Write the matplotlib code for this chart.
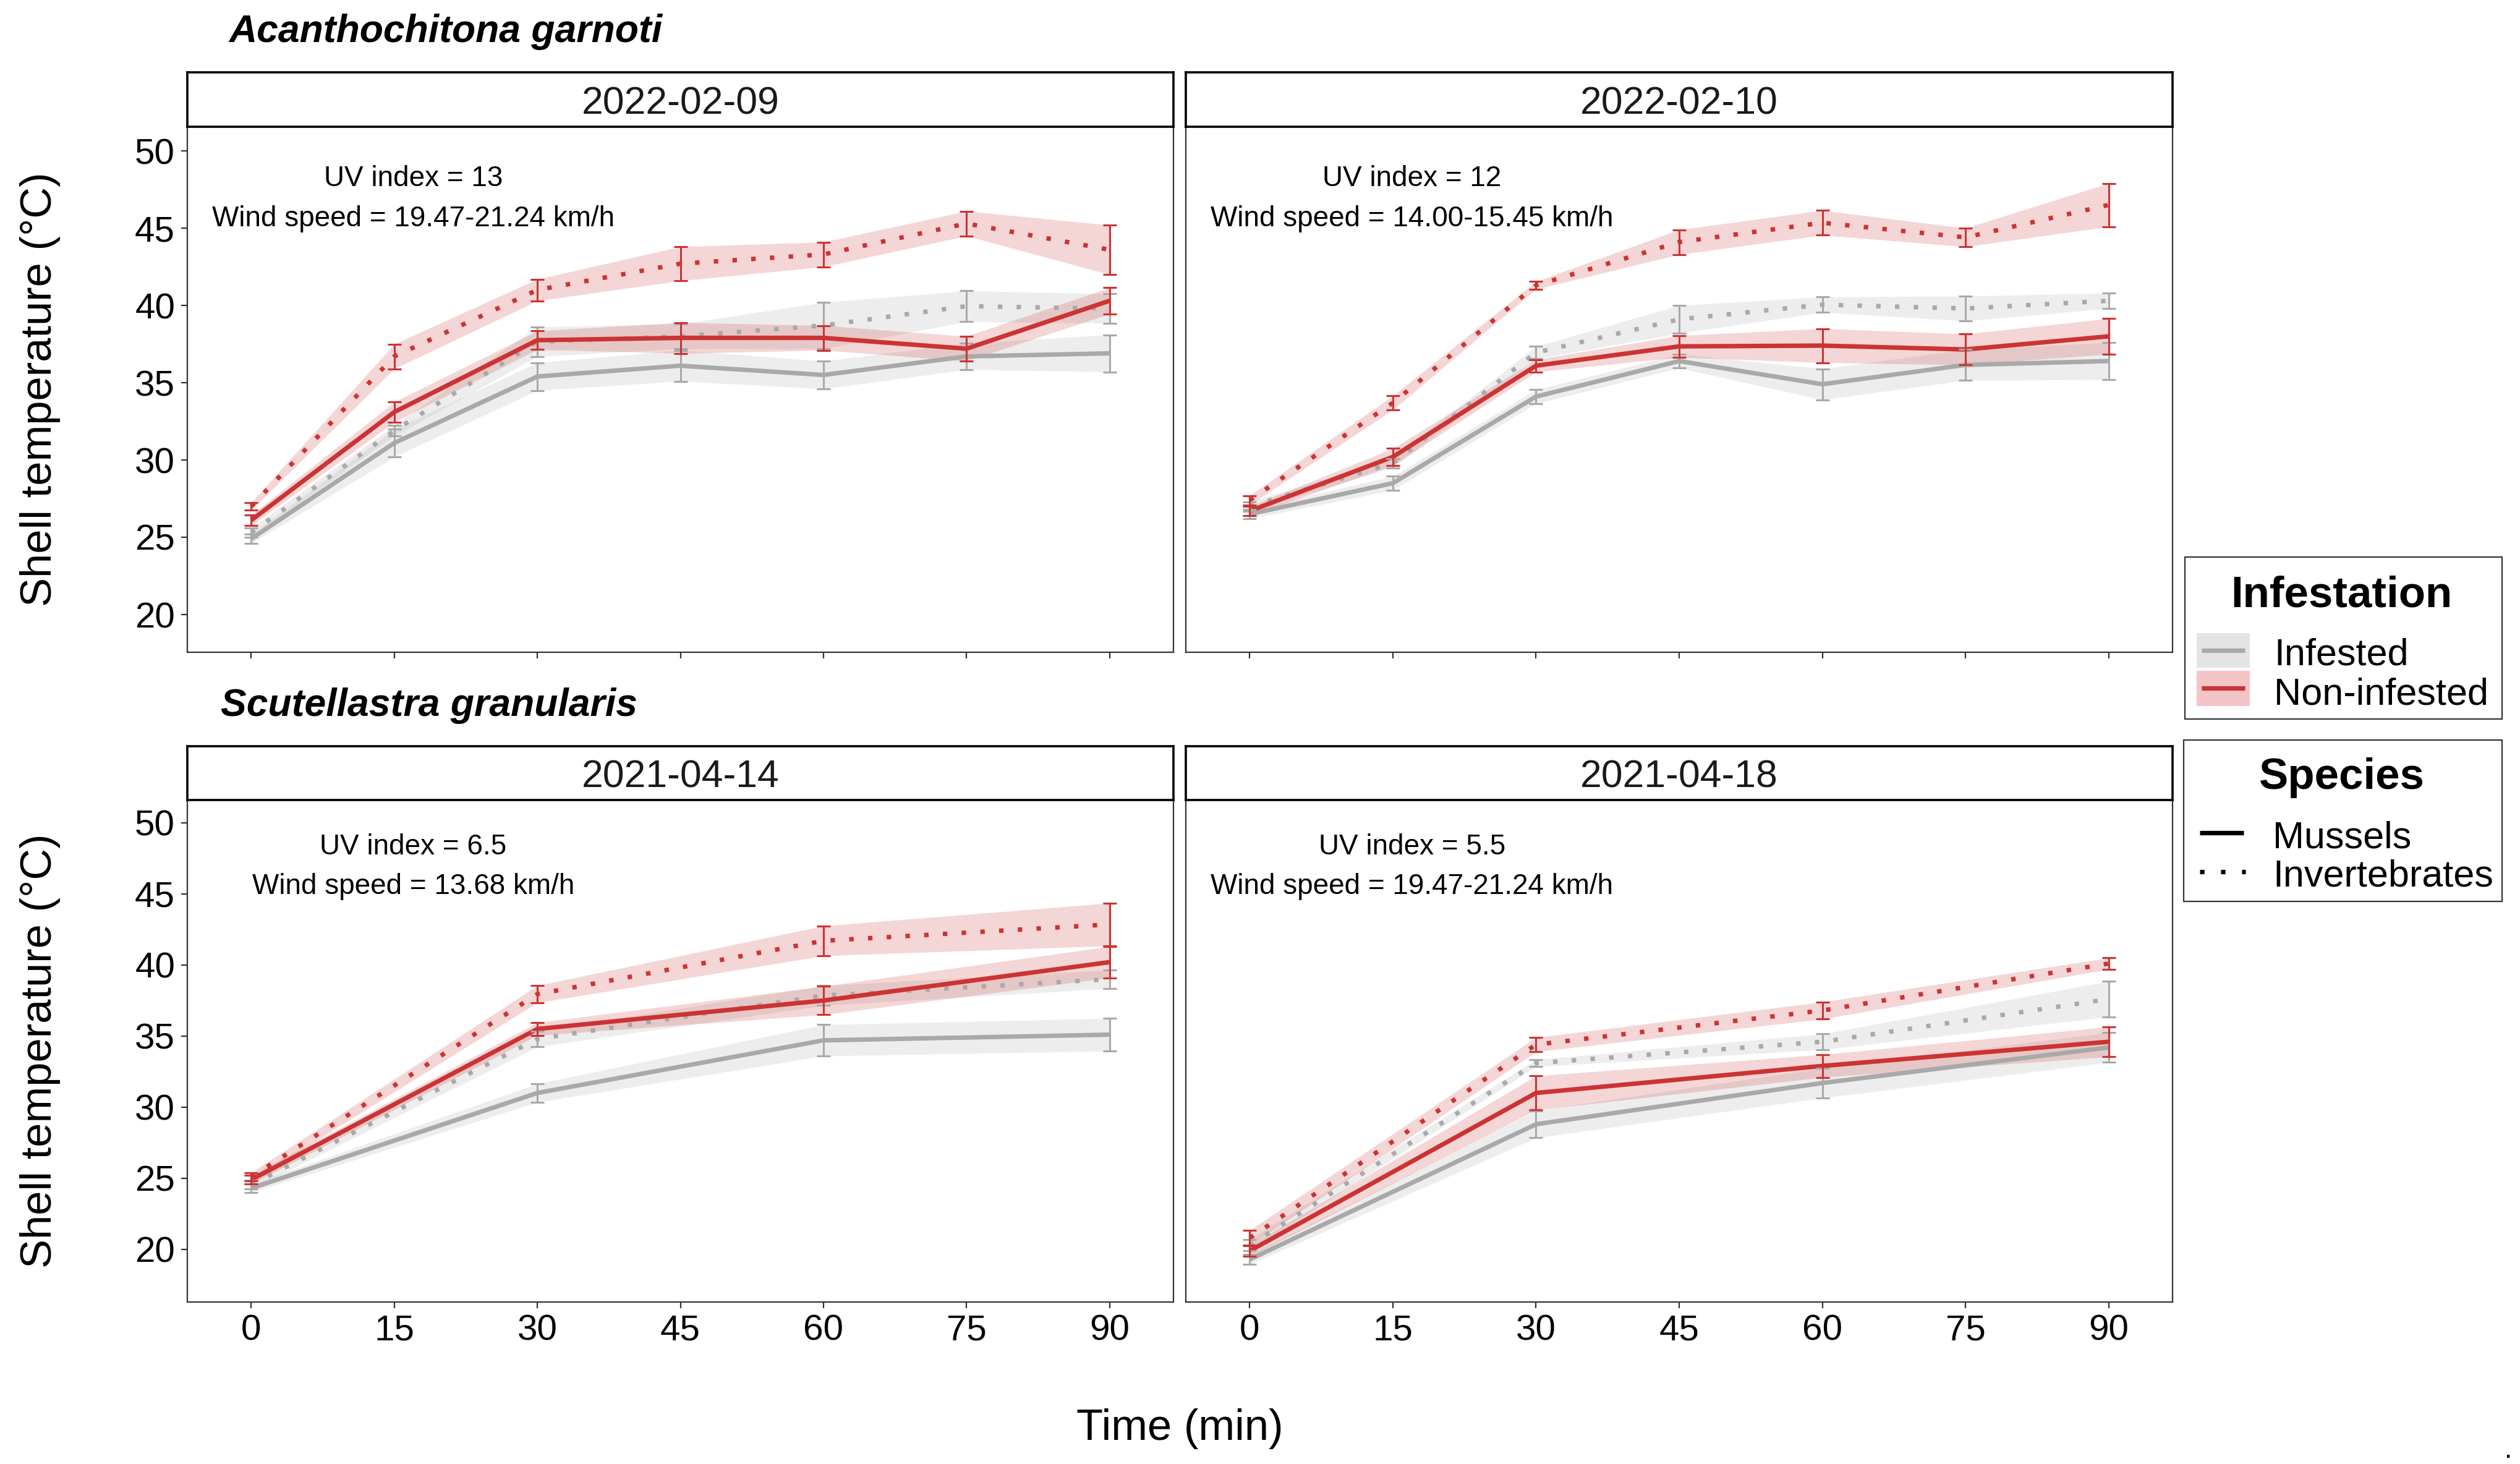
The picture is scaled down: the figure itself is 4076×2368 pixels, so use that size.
import numpy as np
import matplotlib
matplotlib.use('Agg')
import matplotlib.pyplot as plt
from matplotlib.patches import Rectangle
from matplotlib.lines import Line2D

plt.rcParams['font.family'] = ['Liberation Sans', 'DejaVu Sans']

# ---- data: mean shell temperature and SE per group ----
times_top = [0, 15, 30, 45, 60, 75, 90]
times_bot = [0, 30, 60, 90]

# 2022-02-09 (Acanthochitona garnoti)
a09_ni_inv = [27.0, 36.7, 41.0, 42.7, 43.3, 45.3, 43.6]
a09_ni_inv_se = [0.25, 0.8, 0.7, 1.1, 0.8, 0.8, 1.6]
a09_ni_mus = [26.1, 33.1, 37.75, 37.9, 37.9, 37.2, 40.3]
a09_ni_mus_se = [0.35, 0.65, 0.6, 1.0, 0.8, 0.8, 0.85]
a09_in_inv = [25.3, 31.9, 37.65, 38.0, 38.7, 39.95, 39.8]
a09_in_inv_se = [0.3, 0.35, 0.95, 0.8, 1.5, 1.0, 0.95]
a09_in_mus = [24.9, 31.1, 35.4, 36.1, 35.5, 36.7, 36.9]
a09_in_mus_se = [0.3, 0.9, 0.9, 1.0, 0.9, 0.85, 1.2]

# 2022-02-10
a10_ni_inv = [27.4, 33.7, 41.3, 44.1, 45.35, 44.4, 46.5]
a10_ni_inv_se = [0.3, 0.45, 0.25, 0.8, 0.8, 0.6, 1.4]
a10_ni_mus = [26.7, 30.2, 36.1, 37.35, 37.4, 37.15, 38.0]
a10_ni_mus_se = [0.3, 0.55, 0.4, 0.7, 1.1, 1.0, 1.15]
a10_in_inv = [27.0, 29.8, 36.95, 39.1, 40.05, 39.8, 40.3]
a10_in_inv_se = [0.3, 0.3, 0.4, 0.9, 0.5, 0.8, 0.5]
a10_in_mus = [26.5, 28.5, 34.1, 36.4, 34.9, 36.15, 36.4]
a10_in_mus_se = [0.3, 0.45, 0.45, 0.45, 1.0, 1.0, 1.2]

# 2021-04-14 (Scutellastra granularis)
s14_ni_inv = [25.1, 37.95, 41.7, 42.85]
s14_ni_inv_se = [0.3, 0.6, 1.05, 1.5]
s14_ni_mus = [24.9, 35.5, 37.5, 40.2]
s14_ni_mus_se = [0.3, 0.45, 1.0, 1.1]
s14_in_inv = [24.55, 34.8, 37.85, 39.0]
s14_in_inv_se = [0.3, 0.55, 0.7, 0.65]
s14_in_mus = [24.3, 31.0, 34.7, 35.1]
s14_in_mus_se = [0.3, 0.65, 1.1, 1.15]

# 2021-04-18
s18_ni_inv = [20.8, 34.4, 36.8, 40.1]
s18_ni_inv_se = [0.55, 0.5, 0.6, 0.4]
s18_ni_mus = [19.9, 31.0, 32.9, 34.6]
s18_ni_mus_se = [0.4, 1.2, 0.8, 1.05]
s18_in_inv = [20.3, 33.1, 34.6, 37.6]
s18_in_inv_se = [0.4, 0.25, 0.55, 1.25]
s18_in_mus = [19.3, 28.8, 31.7, 34.2]
s18_in_mus_se = [0.35, 0.95, 1.05, 1.05]

dates = ['2022-02-09', '2022-02-10', '2021-04-14', '2021-04-18']
uv_text = ['UV index = 13', 'UV index = 12', 'UV index = 6.5', 'UV index = 5.5']
wind_text = ['Wind speed = 19.47-21.24 km/h', 'Wind speed = 14.00-15.45 km/h',
             'Wind speed = 13.68 km/h', 'Wind speed = 19.47-21.24 km/h']
y_ticks = [20, 25, 30, 35, 40, 45, 50]
x_ticks = [0, 15, 30, 45, 60, 75, 90]

RED = '#CC3333'
GREY = '#A9A9A9'
DOT = (0, (1, 3.2))
LW = 2.6

W, H = 4076, 2368
fig = plt.figure(figsize=(W / 200, H / 200), dpi=200)


def px_rect(x0, y0, x1, y1):
    return [x0 / W, 1 - y1 / H, (x1 - x0) / W, (y1 - y0) / H]


panels = [
    (times_top, [(a09_in_mus, a09_in_mus_se, GREY, '-'), (a09_in_inv, a09_in_inv_se, GREY, DOT),
                 (a09_ni_mus, a09_ni_mus_se, RED, '-'), (a09_ni_inv, a09_ni_inv_se, RED, DOT)]),
    (times_top, [(a10_in_mus, a10_in_mus_se, GREY, '-'), (a10_in_inv, a10_in_inv_se, GREY, DOT),
                 (a10_ni_mus, a10_ni_mus_se, RED, '-'), (a10_ni_inv, a10_ni_inv_se, RED, DOT)]),
    (times_bot, [(s14_in_mus, s14_in_mus_se, GREY, '-'), (s14_in_inv, s14_in_inv_se, GREY, DOT),
                 (s14_ni_mus, s14_ni_mus_se, RED, '-'), (s14_ni_inv, s14_ni_inv_se, RED, DOT)]),
    (times_bot, [(s18_in_mus, s18_in_mus_se, GREY, '-'), (s18_in_inv, s18_in_inv_se, GREY, DOT),
                 (s18_ni_mus, s18_ni_mus_se, RED, '-'), (s18_ni_inv, s18_ni_inv_se, RED, DOT)]),
]

cols = [(303, 1898), (1918, 3514)]
rows = [(117, 205, 1055, (17.56, 51.56), (48.2, 45.6)),
        (1207, 1294, 2106, (16.3, 51.6), (48.3, 45.5))]

for i, (t, series) in enumerate(panels):
    r, c = divmod(i, 2)
    x0, x1 = cols[c]
    s0, p0, p1, ylim, ann_y = rows[r]

    ax = fig.add_axes(px_rect(x0, p0, x1, p1))
    for m, se, col, ls in series:
        m = np.array(m); se = np.array(se)
        ax.fill_between(t, m - se, m + se, color=col, alpha=0.2, lw=0, zorder=1)
    for m, se, col, ls in series:
        ax.plot(t, m, color=col, lw=LW, ls=ls, dash_capstyle='butt',
                solid_capstyle='butt', zorder=2)
    for m, se, col, ls in series:
        ax.errorbar(t, m, yerr=se, fmt='none', ecolor=col, elinewidth=1.1,
                    capsize=4.0, capthick=1.1, zorder=3)

    ax.set_xlim(-6.7, 96.7)
    ax.set_ylim(*ylim)
    ax.set_xticks(x_ticks)
    ax.set_yticks(y_ticks)
    ax.tick_params(length=3.6, width=0.8, color='#333333', labelsize=21, pad=3.6,
                   labelcolor='black')
    if r == 0:
        ax.tick_params(labelbottom=False)
    if c == 1:
        ax.tick_params(left=False, labelleft=False)
    for sp in ax.spines.values():
        sp.set_color('#333333')
        sp.set_linewidth(0.8)

    ax.text(17, ann_y[0], uv_text[i], ha='center', va='center', fontsize=16.5)
    ax.text(17, ann_y[1], wind_text[i], ha='center', va='center', fontsize=16.5)

    # facet strip
    sax = fig.add_axes(px_rect(x0, s0, x1, p0))
    sax.set_xticks([]); sax.set_yticks([])
    for sp in sax.spines.values():
        sp.set_color('black')
        sp.set_linewidth(1.3)
    sax.text(0.5, 0.42, dates[i], ha='center', va='center', fontsize=22.5,
             color='#1A1A1A', transform=sax.transAxes)

# titles and axis labels
fig.text(370 / W, 1 - 68 / H, 'Acanthochitona garnoti', fontsize=22.5,
         weight='bold', style='italic', ha='left', va='baseline')
fig.text(357 / W, 1 - 1158 / H, 'Scutellastra granularis', fontsize=22.5,
         weight='bold', style='italic', ha='left', va='baseline')
for yc in [630, 1700]:
    fig.text(65 / W, 1 - yc / H, 'Shell temperature (°C)', rotation=90,
             ha='center', va='center', fontsize=25.4)
fig.text(1908 / W, 1 - 2329 / H, 'Time (min)', ha='center', va='baseline', fontsize=25.4)
fig.text(4057 / W, 1 - 2358 / H, '.', ha='center', va='baseline', fontsize=16)

# legends drawn in a pixel-space overlay
lg = fig.add_axes([0, 0, 1, 1])
lg.set_xlim(0, W); lg.set_ylim(H, 0)
lg.axis('off')

lg.add_patch(Rectangle((3534, 901), 513, 262, fill=False, ec='#333333', lw=0.8))
lg.text(3787, 981, 'Infestation', ha='center', va='baseline', fontsize=25.5, weight='bold')
lg.add_patch(Rectangle((3553, 1024), 86, 56, fc='#E4E4E4', ec='none'))
lg.add_patch(Rectangle((3553, 1085), 86, 57, fc='#F5C4C6', ec='none'))
lg.add_line(Line2D([3561, 3631], [1052, 1052], color=GREY, lw=LW, solid_capstyle='butt'))
lg.add_line(Line2D([3561, 3631], [1113, 1113], color=RED, lw=LW, solid_capstyle='butt'))
lg.text(3678, 1076, 'Infested', va='baseline', fontsize=22)
lg.text(3678, 1139, 'Non-infested', va='baseline', fontsize=22)

lg.add_patch(Rectangle((3532, 1197), 515, 261, fill=False, ec='#333333', lw=0.8))
lg.text(3788, 1276, 'Species', ha='center', va='baseline', fontsize=25.5, weight='bold')
lg.add_line(Line2D([3558, 3629], [1347, 1347], color='black', lw=LW, solid_capstyle='butt'))
lg.add_line(Line2D([3558, 3632], [1410, 1410], color='black', lw=LW, ls=(0, (1, 3.7)),
                   dash_capstyle='butt'))
lg.text(3676, 1372, 'Mussels', va='baseline', fontsize=22)
lg.text(3676, 1434, 'Invertebrates', va='baseline', fontsize=22)

fig.savefig('out.png', dpi=200, facecolor='white')
